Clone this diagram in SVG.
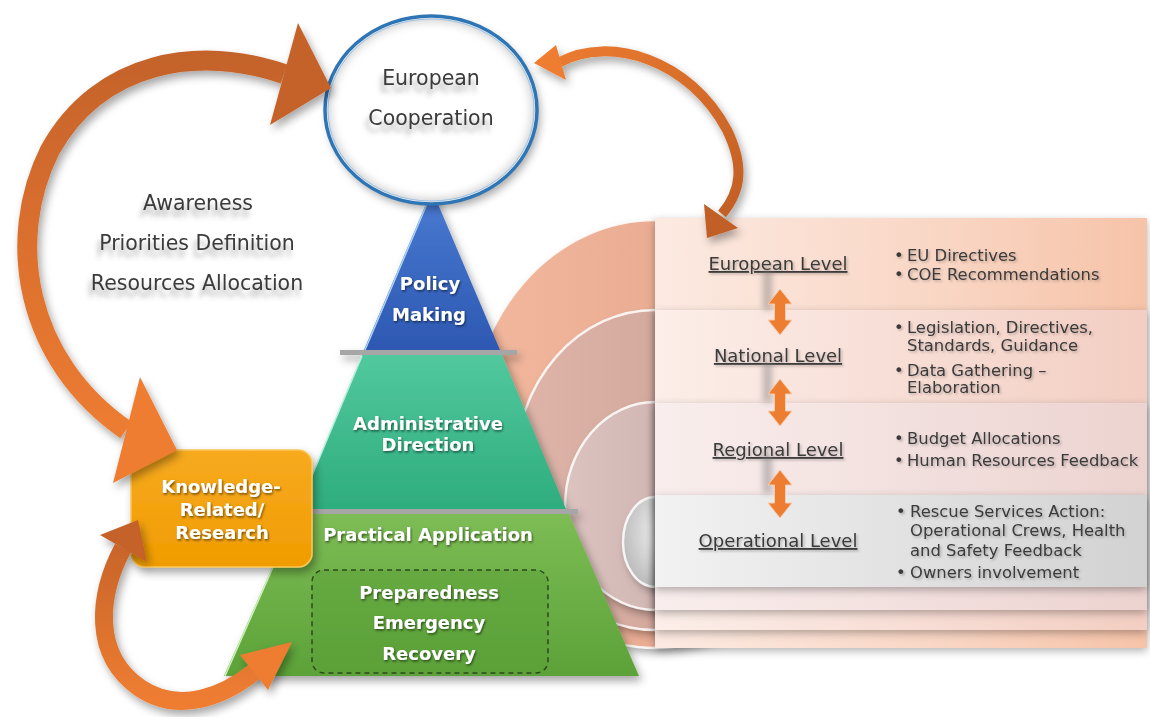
<svg xmlns="http://www.w3.org/2000/svg" width="1150" height="717" viewBox="0 0 1150 717">
<style>
.g{font-family:"DejaVu Sans",Verdana,sans-serif;fill:#3A3A3A}
.big{font-size:20.5px;text-anchor:middle}
.w{font-family:"DejaVu Sans",Verdana,sans-serif;font-weight:bold;fill:#fff;font-size:18px;text-anchor:middle}
.lvl{font-size:18px;text-anchor:middle;text-decoration:underline}
.b{font-size:16.4px}
.sep{fill:#A6A6A6}
.dbl{fill:#ED7D31;stroke:#F8CBAD;stroke-width:1}
.rim{fill:none;stroke:#fff;stroke-width:2.5;opacity:.85}
</style>
<defs>
<filter id="sh" x="-20%" y="-20%" width="140%" height="140%"><feDropShadow dx="3" dy="5" stdDeviation="4" flood-color="#000" flood-opacity="0.35"/></filter>
<filter id="rsh" x="-10%" y="-10%" width="120%" height="130%"><feDropShadow dx="0" dy="3" stdDeviation="4" flood-color="#000" flood-opacity="0.3"/></filter>
<filter id="tsh" x="-20%" y="-50%" width="140%" height="200%"><feDropShadow dx="-3" dy="7" stdDeviation="2.5" flood-color="#555" flood-opacity="0.45"/></filter>
<filter id="wsh" x="-10%" y="-30%" width="120%" height="160%"><feDropShadow dx="1" dy="1.5" stdDeviation="0.8" flood-color="#000" flood-opacity="0.55"/></filter>
<filter id="ssh" x="-10%" y="-30%" width="120%" height="160%"><feDropShadow dx="1.5" dy="1.5" stdDeviation="1" flood-color="#000" flood-opacity="0.25"/></filter>
<filter id="blur" x="-100%" y="-50%" width="300%" height="200%"><feGaussianBlur stdDeviation="3"/></filter>
<filter id="inner" x="-10%" y="-10%" width="120%" height="120%"><feGaussianBlur stdDeviation="5"/></filter>
<linearGradient id="gBlue" x1="0" y1="190" x2="0" y2="350" gradientUnits="userSpaceOnUse"><stop offset="0" stop-color="#4A7BD2"/><stop offset="1" stop-color="#2D58B2"/></linearGradient>
<linearGradient id="gTeal" x1="0" y1="355" x2="0" y2="508" gradientUnits="userSpaceOnUse"><stop offset="0" stop-color="#52C89E"/><stop offset="1" stop-color="#2EAD7E"/></linearGradient>
<linearGradient id="gGreen" x1="0" y1="514" x2="0" y2="676" gradientUnits="userSpaceOnUse"><stop offset="0" stop-color="#7DBC55"/><stop offset="1" stop-color="#5CA238"/></linearGradient>
<linearGradient id="gBox" x1="0" y1="0" x2="0" y2="1"><stop offset="0" stop-color="#F7AA20"/><stop offset="1" stop-color="#F09C00"/></linearGradient>
<linearGradient id="gArcL" x1="0" y1="30" x2="0" y2="450" gradientUnits="userSpaceOnUse"><stop offset="0" stop-color="#C0612B"/><stop offset="0.45" stop-color="#D96E2E"/><stop offset="1" stop-color="#EE7D31"/></linearGradient>
<linearGradient id="gArcB" x1="0" y1="530" x2="0" y2="700" gradientUnits="userSpaceOnUse"><stop offset="0" stop-color="#C4622A"/><stop offset="1" stop-color="#EE7D31"/></linearGradient>
<linearGradient id="gArcR" x1="540" y1="40" x2="740" y2="230" gradientUnits="userSpaceOnUse"><stop offset="0" stop-color="#EE7D31"/><stop offset="1" stop-color="#C05E25"/></linearGradient>
<linearGradient id="gEu" x1="0" y1="0" x2="1" y2="0"><stop offset="0" stop-color="#FCEAE2"/><stop offset="0.6" stop-color="#F9D5C3"/><stop offset="1" stop-color="#F6C3A8"/></linearGradient>
<linearGradient id="gNa" x1="0" y1="0" x2="1" y2="0"><stop offset="0" stop-color="#FCEEE9"/><stop offset="1" stop-color="#F3CEC2"/></linearGradient>
<linearGradient id="gRe" x1="0" y1="0" x2="1" y2="0"><stop offset="0" stop-color="#F9EEED"/><stop offset="1" stop-color="#ECD3D0"/></linearGradient>
<linearGradient id="gOp" x1="0" y1="0" x2="1" y2="0"><stop offset="0" stop-color="#F2F2F2"/><stop offset="1" stop-color="#D2D2D2"/></linearGradient>
<radialGradient id="gE4" cx="0.6" cy="0.4" r="0.7"><stop offset="0" stop-color="#F5F5F5"/><stop offset="1" stop-color="#B5B5B5"/></radialGradient>
<linearGradient id="gE1" x1="0" y1="0" x2="1" y2="0"><stop offset="0" stop-color="#F2B89E"/><stop offset="1" stop-color="#E2A288"/></linearGradient>
<linearGradient id="gE2" x1="0" y1="0" x2="1" y2="0"><stop offset="0" stop-color="#DFB5AA"/><stop offset="1" stop-color="#C99E92"/></linearGradient>
<linearGradient id="gE3" x1="0" y1="0" x2="1" y2="0"><stop offset="0" stop-color="#DCC3C0"/><stop offset="1" stop-color="#C7AAA6"/></linearGradient>
<clipPath id="ellClip"><ellipse cx="431" cy="110" rx="104" ry="92"/></clipPath>
</defs>

<rect width="1150" height="717" fill="#fff"/>

<!-- target background ellipses -->
<g id="target-rings">
  <ellipse cx="655" cy="434" rx="186" ry="214" fill="url(#gE1)" filter="url(#sh)"/>
  <ellipse cx="655" cy="434" rx="186" ry="214" class="rim"/>
  <ellipse cx="655" cy="470" rx="140" ry="160" fill="url(#gE2)" filter="url(#sh)"/>
  <ellipse cx="655" cy="470" rx="140" ry="160" class="rim"/>
  <ellipse cx="655" cy="506" rx="90" ry="104" fill="url(#gE3)" filter="url(#sh)"/>
  <ellipse cx="655" cy="506" rx="90" ry="104" class="rim"/>
  <ellipse cx="655" cy="542" rx="32" ry="45" fill="url(#gE4)" filter="url(#sh)"/>
  <ellipse cx="655" cy="542" rx="32" ry="45" class="rim"/>
</g>

<!-- level table -->
<g id="node-european-level">
  <rect x="655" y="218" width="492" height="430" fill="url(#gEu)" filter="url(#rsh)"/>
  <text class="g lvl" x="778" y="270" filter="url(#ssh)">European Level</text>
  <g class="g b" filter="url(#ssh)">
    <text x="894" y="261">•</text><text x="907" y="261">EU Directives</text>
    <text x="894" y="280">•</text><text x="907" y="280">COE Recommendations</text>
  </g>
</g>
<g id="node-national-level">
  <rect x="655" y="310" width="492" height="320" fill="url(#gNa)" filter="url(#rsh)"/>
  <text class="g lvl" x="778" y="362" filter="url(#ssh)">National Level</text>
  <g class="g b" filter="url(#ssh)">
    <text x="894" y="333">•</text><text x="907" y="333">Legislation, Directives,</text>
    <text x="907" y="351">Standards, Guidance</text>
    <text x="894" y="376">•</text><text x="907" y="376">Data Gathering –</text>
    <text x="907" y="393">Elaboration</text>
  </g>
</g>
<g id="node-regional-level">
  <rect x="655" y="403" width="492" height="207" fill="url(#gRe)" filter="url(#rsh)"/>
  <text class="g lvl" x="778" y="456" filter="url(#ssh)">Regional Level</text>
  <g class="g b" filter="url(#ssh)">
    <text x="894" y="444">•</text><text x="907" y="444">Budget Allocations</text>
    <text x="894" y="466">•</text><text x="907" y="466">Human Resources Feedback</text>
  </g>
</g>
<g id="node-operational-level">
  <rect x="655" y="495" width="492" height="92" fill="url(#gOp)" filter="url(#rsh)"/>
  <text class="g lvl" x="778" y="547" filter="url(#ssh)">Operational Level</text>
  <g class="g b" filter="url(#ssh)">
    <text x="896" y="517">•</text><text x="910" y="517">Rescue Services Action:</text>
    <text x="910" y="536">Operational Crews, Health</text>
    <text x="910" y="556">and Safety Feedback</text>
    <text x="896" y="578">•</text><text x="910" y="578">Owners involvement</text>
  </g>
</g>

<!-- pyramid -->
<g id="node-pyramid" filter="url(#sh)">
  <g id="node-policy-making">
    <polygon points="432,190 364,350 500,350" fill="url(#gBlue)"/>
    <line x1="432" y1="192" x2="365" y2="350" stroke="#A9D4F5" stroke-width="1.5"/>
  </g>
  <rect class="sep" x="340" y="350" width="177" height="5"/>
  <g id="node-administrative-direction">
    <polygon points="362,355 502,355 566,509 298,509" fill="url(#gTeal)"/>
    <line x1="362" y1="356" x2="298" y2="509" stroke="#B6F0DE" stroke-width="1.5"/>
  </g>
  <rect class="sep" x="300" y="509" width="278" height="5"/>
  <g id="node-practical-application">
    <polygon points="296,514 569,514 639,676 224,676" fill="url(#gGreen)"/>
    <line x1="296" y1="515" x2="225" y2="676" stroke="#CDF3B8" stroke-width="1.5"/>
  </g>
</g>
<text class="w" x="430" y="290" filter="url(#wsh)">Policy</text>
<text class="w" x="429" y="321" filter="url(#wsh)">Making</text>
<text class="w" x="428" y="430" filter="url(#wsh)">Administrative</text>
<text class="w" x="428" y="451" filter="url(#wsh)">Direction</text>
<text class="w" x="428" y="541" filter="url(#wsh)">Practical Application</text>
<g id="node-preparedness">
  <rect x="312" y="570" width="236" height="103" rx="12" fill="#5A9F38" fill-opacity="0.5" stroke="#2C4A1C" stroke-width="1.5" stroke-dasharray="5,4"/>
  <text class="w" x="429" y="599" filter="url(#wsh)">Preparedness</text>
  <text class="w" x="429" y="629" filter="url(#wsh)">Emergency</text>
  <text class="w" x="429" y="660" filter="url(#wsh)">Recovery</text>
</g>

<!-- knowledge box -->
<g id="node-knowledge">
  <rect x="131" y="450" width="181" height="117" rx="14" fill="url(#gBox)" stroke="#F9C659" stroke-width="1.5" filter="url(#sh)"/>
  <text class="w" x="221" y="493" filter="url(#wsh)">Knowledge-</text>
  <text class="w" x="222" y="516" filter="url(#wsh)">Related/</text>
  <text class="w" x="222" y="539" filter="url(#wsh)">Research</text>
</g>

<!-- european cooperation -->
<g id="node-european-cooperation">
  <ellipse cx="431" cy="110" rx="106" ry="94" fill="#fff" filter="url(#sh)"/>
  <g clip-path="url(#ellClip)">
    <ellipse cx="431" cy="110" rx="106" ry="94" fill="none" stroke="#999" stroke-width="10" opacity="0.5" filter="url(#inner)"/>
  </g>
  <ellipse cx="431" cy="110" rx="106" ry="94" fill="none" stroke="#2E75B6" stroke-width="3.5"/>
  <ellipse cx="431" cy="110" rx="103" ry="91" fill="none" stroke="#9DC3E6" stroke-width="1"/>
  <text class="g big" x="431" y="85" filter="url(#tsh)">European</text>
  <text class="g big" x="431" y="125" filter="url(#tsh)">Cooperation</text>
</g>

<g id="node-awareness" class="g big" filter="url(#tsh)">
  <text x="198" y="210">Awareness</text>
  <text x="197" y="250">Priorities Definition</text>
  <text x="197" y="290">Resources Allocation</text>
</g>

<!-- connectors -->
<g id="connectors">
  <g filter="url(#sh)">
    <path d="M284,74 C200,45 100,60 50,150 C5,240 25,360 126,430" fill="none" stroke="url(#gArcL)" stroke-width="20"/>
    <polygon points="298,23 270,125 331,88" fill="#C4622B"/>
    <polygon points="140,377 113,483 177,450" fill="#EE7D31"/>
  </g>
  <g filter="url(#sh)">
    <path d="M123,548 C98,595 92,655 140,688 C180,715 225,695 254,672" fill="none" stroke="url(#gArcB)" stroke-width="18"/>
    <polygon points="100,535 147,562 138,520" fill="#C4622A"/>
    <polygon points="240,655 268,690 292,642" fill="#EE7D31"/>
  </g>
  <g filter="url(#sh)">
    <path d="M560,62 C610,35 690,60 727,130 C744,165 742,190 722,214" fill="none" stroke="url(#gArcR)" stroke-width="10"/>
    <polygon points="534,63 556,45 566,80" fill="#EE7D31"/>
    <polygon points="704,204 738,228 707,238" fill="#C05E25"/>
  </g>
  <g id="level-arrows">
    <rect x="763" y="270" width="9" height="40" fill="#777" opacity="0.45" filter="url(#blur)"/>
    <rect x="763" y="362" width="9" height="40" fill="#777" opacity="0.45" filter="url(#blur)"/>
    <rect x="763" y="453" width="9" height="40" fill="#777" opacity="0.45" filter="url(#blur)"/>
    <path class="dbl" d="M780,289 L792,304 L785.5,304 L785.5,320 L792,320 L780,335 L768,320 L774.5,320 L774.5,304 L768,304 Z"/>
    <path class="dbl" d="M780,379 L792,394 L785.5,394 L785.5,411 L792,411 L780,426 L768,411 L774.5,411 L774.5,394 L768,394 Z"/>
    <path class="dbl" d="M780,470 L792,485 L785.5,485 L785.5,503 L792,503 L780,518 L768,503 L774.5,503 L774.5,485 L768,485 Z"/>
  </g>
</g>
</svg>
